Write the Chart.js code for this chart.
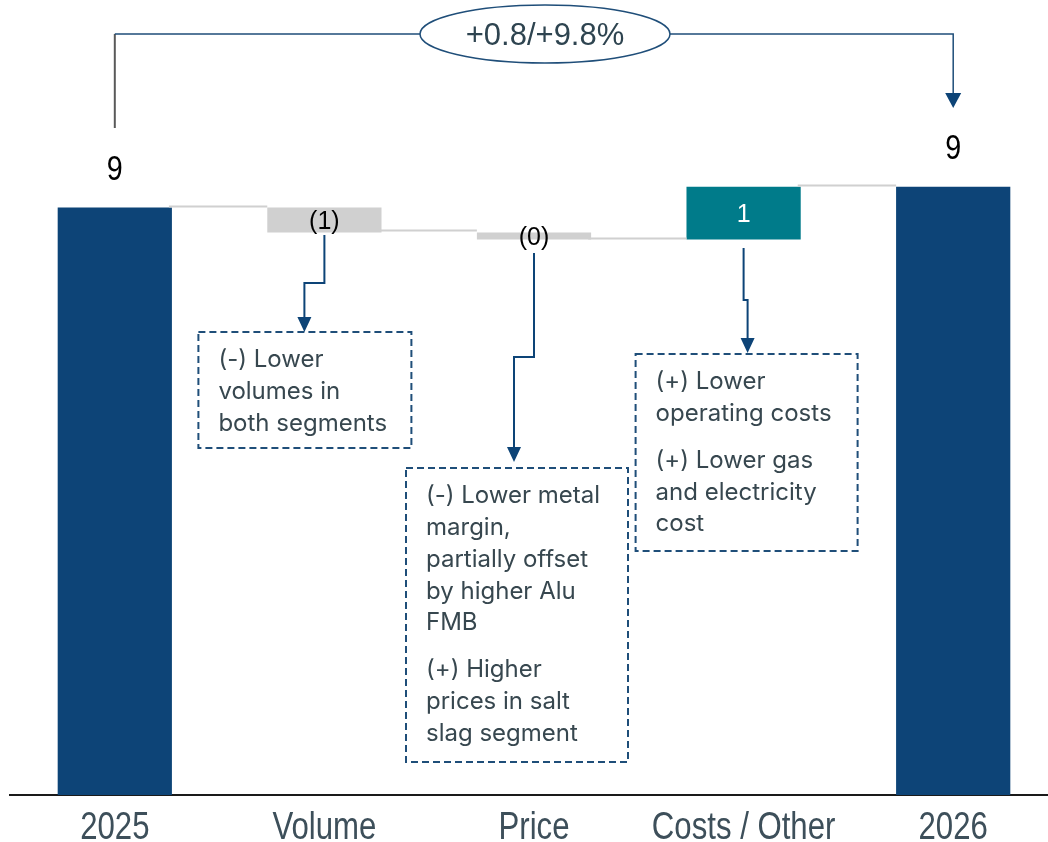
<!DOCTYPE html>
<html>
<head>
<meta charset="utf-8">
<script src="https://cdn.jsdelivr.net/npm/chart.js@4/dist/chart.umd.min.js"></script>
<style>
  html, body { margin: 0; padding: 0; background: #ffffff; overflow: hidden; }
  #wrap { position: relative; width: 1058px; height: 842px; }
</style>
</head>
<body>
<div id="wrap"><canvas id="bridge"></canvas></div>
<script>
// ---- Data -------------------------------------------------------------
const categories = ['2025', 'Volume', 'Price', 'Costs / Other', '2026'];
const openingValue = 8.6;
const bridgeSteps = [-0.6, -0.17, 1.27];          // Volume, Price, Costs / Other
const closingValue = 9.1;
const bridgeLabel = '+0.8/+9.8%';
const stepNotes = [
  null,
  [['(-) Lower', 'volumes in', 'both segments']],
  [['(-) Lower metal', 'margin,', 'partially offset', 'by higher Alu', 'FMB'],
   ['(+) Higher', 'prices in salt', 'slag segment']],
  [['(+) Lower', 'operating costs'],
   ['(+) Lower gas', 'and electricity', 'cost']],
  null
];

// ---- Layout & style ---------------------------------------------------
const Y_MIN = -5.55, Y_MAX = 13.6;
const NAVY = '#0d4477', TEAL = '#007b8a', GREY = '#d0d0d0';
const LINE_BLUE = '#1f4e79', SLATE = '#37474f';
const BODY_FONT = '"Liberation Sans", Arial, sans-serif';
const NOTE_FONT = 'Inter, "Liberation Sans", sans-serif';
const NARROW = 0.82;   // horizontal squeeze for the condensed labels

// note boxes: offsets relative to the category centre (px)
const noteLayout = [
  null,
  { dx: -126, top: 332, w: 213, h: 116, startY: 235, elbowY: 283, arrowDx: -20, tipY: 332 },
  { dx: -128, top: 468, w: 222, h: 294, startY: 253, elbowY: 357, arrowDx: -20, tipY: 462 },
  { dx: -108, top: 354, w: 222, h: 197, startY: 248, elbowY: 300, arrowDx: 4, tipY: 353 },
  null
];
const headerLayout = { lineY: 34, leftBottom: 128, tipY: 108, ellipseCx: 545, rx: 125, ry: 29 };

// ---- Derived series ---------------------------------------------------
const running = [openingValue];
bridgeSteps.forEach(s => running.push(+(running[running.length - 1] + s).toFixed(4)));

const barData = [[Y_MIN, openingValue]];
bridgeSteps.forEach((s, i) => barData.push([running[i], running[i + 1]]));
barData.push([Y_MIN, closingValue]);

const barValues = [openingValue, ...bridgeSteps, closingValue];
const barColors = barValues.map((v, i) =>
  (i === 0 || i === barValues.length - 1) ? NAVY : (v >= 0 ? TEAL : GREY));
const levels = [...running]; // level after each category (for connectors)

function formatValue(v, isTotal) {
  const r = Math.round(Math.abs(v));
  if (isTotal) return String(Math.round(v));
  return v < 0 ? '(' + r + ')' : String(r);
}

// ---- Drawing helpers --------------------------------------------------
function arrowHead(ctx, x, tipY, w, h, color) {
  ctx.fillStyle = color;
  ctx.beginPath();
  ctx.moveTo(x - w / 2, tipY - h);
  ctx.lineTo(x + w / 2, tipY - h);
  ctx.lineTo(x, tipY);
  ctx.closePath();
  ctx.fill();
}

function narrowText(ctx, text, x, y, font, color) {
  ctx.save();
  ctx.font = font;
  ctx.fillStyle = color;
  ctx.textAlign = 'center';
  ctx.textBaseline = 'alphabetic';
  ctx.translate(x, y);
  ctx.scale(NARROW, 1);
  ctx.fillText(text, 0, 0);
  ctx.restore();
}

const bridgeDecor = {
  id: 'bridgeDecor',
  afterDraw(chart) {
    const { ctx, scales: { x, y } } = chart;
    const bars = chart.getDatasetMeta(0).data;
    ctx.save();

    // category labels under the axis
    chart.data.labels.forEach((lab, i) => {
      narrowText(ctx, lab, x.getPixelForTick(i), 839, '38px ' + BODY_FONT, '#3d4f5a');
    });

    // connectors between consecutive bars
    ctx.strokeStyle = GREY;
    ctx.lineWidth = 2;
    for (let i = 0; i < bars.length - 1; i++) {
      const py = Math.round(y.getPixelForValue(levels[i])) - 1.5;
      ctx.beginPath();
      ctx.moveTo(bars[i].x + bars[i].width / 2 - 3, py);
      ctx.lineTo(bars[i + 1].x - bars[i + 1].width / 2, py);
      ctx.stroke();
    }

    // value labels
    bars.forEach((bar, i) => {
      const isTotal = i === 0 || i === bars.length - 1;
      const v = barValues[i];
      const text = formatValue(v, isTotal);
      if (isTotal) {
        narrowText(ctx, text, bar.x, Math.min(bar.y, bar.base) - 28, '35px ' + BODY_FONT, '#000000');
      } else {
        ctx.font = '25px ' + BODY_FONT;
        ctx.fillStyle = v >= 0 ? '#ffffff' : '#000000';
        ctx.textAlign = 'center';
        ctx.textBaseline = 'middle';
        ctx.fillText(text, bar.x, (bar.y + bar.base) / 2 + 2);
      }
    });

    // commentary boxes with elbow arrows
    bars.forEach((bar, i) => {
      const lay = noteLayout[i];
      const paras = stepNotes[i];
      if (!lay || !paras) return;
      const left = bar.x + lay.dx;
      const ax = bar.x + lay.arrowDx;

      ctx.strokeStyle = NAVY;
      ctx.lineWidth = 2;
      ctx.setLineDash([]);
      ctx.beginPath();
      ctx.moveTo(bar.x, lay.startY);
      ctx.lineTo(bar.x, lay.elbowY);
      ctx.lineTo(ax, lay.elbowY);
      ctx.lineTo(ax, lay.tipY - 12);
      ctx.stroke();
      arrowHead(ctx, ax, lay.tipY, 14, 15, NAVY);

      ctx.strokeStyle = LINE_BLUE;
      ctx.lineWidth = 2;
      ctx.setLineDash([7, 4]);
      ctx.strokeRect(left, lay.top, lay.w, lay.h);
      ctx.setLineDash([]);

      ctx.font = '24px ' + NOTE_FONT;
      ctx.fillStyle = SLATE;
      ctx.textAlign = 'left';
      ctx.textBaseline = 'middle';
      let ty = lay.top + 28;
      paras.forEach((lines, p) => {
        if (p > 0) ty += 15;
        lines.forEach(line => {
          ctx.fillText(line, left + 20, ty);
          ty += 31.8;
        });
      });
    });

    // overall change bracket on top
    const first = bars[0], last = bars[bars.length - 1];
    const hl = headerLayout;
    ctx.lineWidth = 2;
    ctx.strokeStyle = '#595959';
    ctx.beginPath();
    ctx.moveTo(first.x, hl.leftBottom);
    ctx.lineTo(first.x, hl.lineY);
    ctx.stroke();
    ctx.lineWidth = 1.5;
    ctx.strokeStyle = LINE_BLUE;
    ctx.beginPath();
    ctx.moveTo(first.x, hl.lineY);
    ctx.lineTo(last.x, hl.lineY);
    ctx.lineTo(last.x, hl.tipY - 12);
    ctx.stroke();
    arrowHead(ctx, last.x, hl.tipY, 16, 15, NAVY);

    ctx.beginPath();
    ctx.ellipse(hl.ellipseCx, hl.lineY, hl.rx, hl.ry, 0, 0, Math.PI * 2);
    ctx.fillStyle = '#ffffff';
    ctx.fill();
    ctx.lineWidth = 1.5;
    ctx.strokeStyle = LINE_BLUE;
    ctx.stroke();
    ctx.font = '31px ' + BODY_FONT;
    ctx.fillStyle = '#2e4450';
    ctx.textAlign = 'center';
    ctx.textBaseline = 'middle';
    ctx.fillText(bridgeLabel, hl.ellipseCx, hl.lineY + 2);

    ctx.restore();
  }
};

// ---- Chart ------------------------------------------------------------
new Chart(document.getElementById('bridge'), {
  type: 'bar',
  data: {
    labels: categories,
    datasets: [{
      data: barData,
      backgroundColor: barColors,
      borderWidth: 0,
      barPercentage: 0.545,
      categoryPercentage: 1.0
    }]
  },
  options: {
    responsive: true,
    maintainAspectRatio: false,
    animation: false,
    layout: { padding: { left: 10, right: 0, top: 0, bottom: 0 } },
    plugins: { legend: { display: false }, tooltip: { enabled: false } },
    scales: {
      x: {
        grid: { display: false, drawTicks: false },
        border: { display: true, color: '#1a1a1a', width: 2 },
        ticks: { display: false },
        afterFit(scale) { scale.height = 47; }
      },
      y: {
        display: false,
        min: Y_MIN,
        max: Y_MAX
      }
    }
  },
  plugins: [bridgeDecor]
});
</script>
</body>
</html>
